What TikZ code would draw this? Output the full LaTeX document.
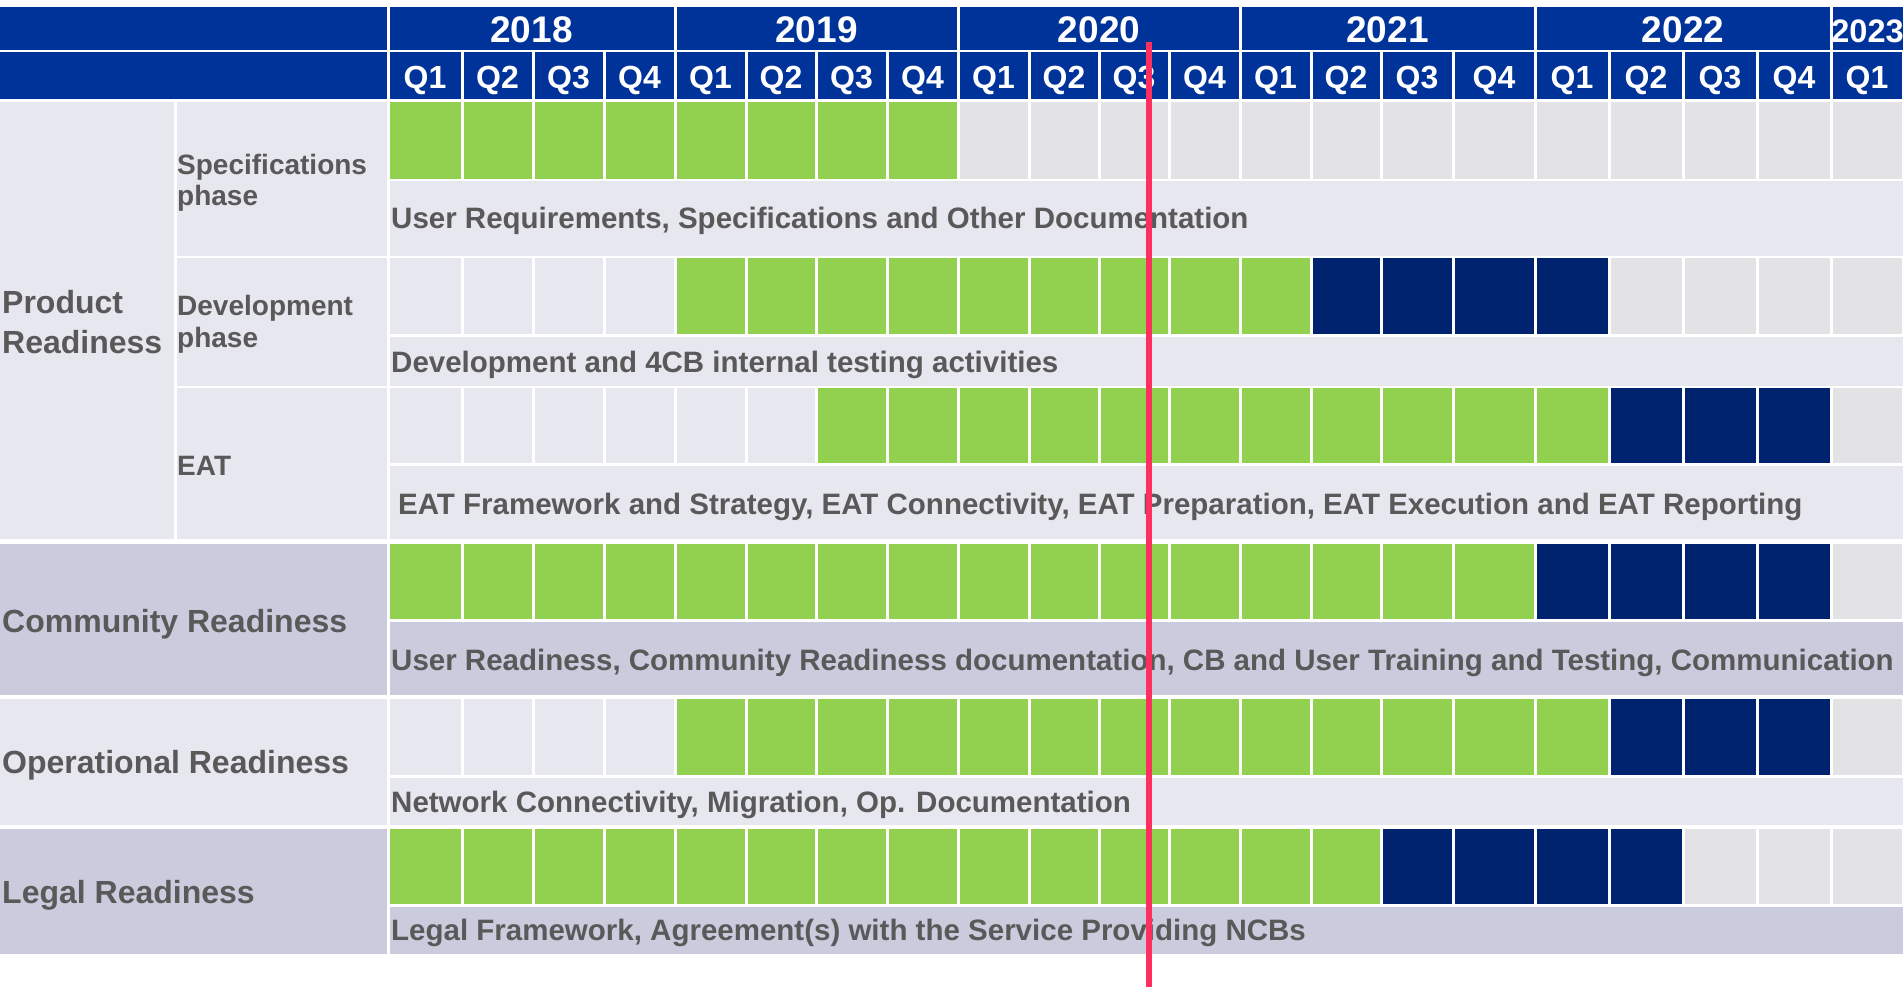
\documentclass[tikz,border=0pt]{standalone}
\usepackage{fontspec}
\setmainfont{Liberation Sans}
\usepackage{tikz}

\definecolor{hdrblue}{RGB}{0,51,153}
\definecolor{navycell}{RGB}{0,35,112}
\definecolor{greencell}{RGB}{146,208,80}
\definecolor{blankcell}{RGB}{230,231,239}
\definecolor{lavcell}{RGB}{202,203,221}
\definecolor{futurecell}{RGB}{227,227,229}
\definecolor{labelgray}{RGB}{89,89,89}
\definecolor{todayred}{RGB}{255,48,96}

\def\quarters{388/462, 462/533, 533/604, 604/675, 675/746, 746/816, 816/887, 887/958, 958/1029, 1029/1099, 1099/1169, 1169/1240, 1240/1311, 1311/1381, 1381/1453, 1453/1535, 1535/1609, 1609/1683, 1683/1757, 1757/1831, 1831/1903}

\begin{document}
\begin{tikzpicture}[x=1pt, y=-1pt,
hdrcell/.style={fill=hdrblue},
yearnode/.style={text=white, font=\fontsize{37}{37}\selectfont\bfseries, inner sep=0pt, anchor=base},
qnode/.style={text=white, font=\fontsize{32}{32}\selectfont\bfseries, inner sep=0pt, anchor=base},
grouplabel/.style={text=labelgray, font=\fontsize{32}{40}\selectfont\bfseries, inner sep=0pt, anchor=base west, align=left},
phaselabel/.style={text=labelgray, font=\fontsize{28}{32}\selectfont\bfseries, inner sep=0pt, anchor=base west, align=left},
tasknode/.style={text=labelgray, font=\fontsize{29.5}{29.5}\selectfont\bfseries, inner sep=0pt, anchor=base west},
todayline/.style={draw=todayred, line width=6pt},
]
\useasboundingbox (0,0) rectangle (1903,987);

%Header
\fill[hdrcell] (0,7) rectangle (386.5,50);
\fill[hdrcell] (0,52.5) rectangle (386.5,99);
\foreach \xa/\xb/\yr in {388/675/2018, 675/958/2019, 958/1240/2020, 1240/1535/2021, 1535/1831/2022}{
  \fill[hdrcell] (\xa+1.5,7) rectangle (\xb-1.5,50);
  \node[yearnode] (y\yr) at ({(\xa+\xb)/2},43) {\yr};
}
\fill[hdrcell] (1832.5,7) rectangle (1903,50);
\node[yearnode, font=\fontsize{32.5}{32.5}\selectfont\bfseries] (y2023) at (1867.5,43) {2023};
\foreach \xa/\xb [count=\c] in \quarters{
  \pgfmathtruncatemacro\q{mod(\c-1,4)+1}
  \fill[hdrcell] (\xa+1.5,52.5) rectangle (\xb-1.5,99);
  \node[qnode] (q\c) at ({(\xa+\xb)/2},89) {Q\q};
}

%Left blocks
\fill[blankcell] (0,102) rectangle (173.5,539);
\fill[blankcell] (176.5,102) rectangle (386.5,255.5);
\fill[blankcell] (176.5,258) rectangle (386.5,385.5);
\fill[blankcell] (176.5,388) rectangle (386.5,539);
\fill[lavcell] (0,544) rectangle (386.5,695);
\fill[blankcell] (0,699) rectangle (386.5,825);
\fill[lavcell] (0,829) rectangle (386.5,954);

%Text rows
\fill[blankcell] (389.5,181) rectangle (1903,255.5);
\fill[blankcell] (389.5,337) rectangle (1903,385.5);
\fill[blankcell] (389.5,466) rectangle (1903,539);
\fill[lavcell] (389.5,622) rectangle (1903,695);
\fill[blankcell] (389.5,778) rectangle (1903,825);
\fill[lavcell] (389.5,907) rectangle (1903,954);

%Bars
\foreach \top/\bot/\gfrom/\gto/\nto in {102/179/1/8/8, 258/334/5/13/17, 388/463/7/17/20, 544/619/1/16/20, 699/775/5/17/20, 829/904/1/14/18}{
  \foreach \xa/\xb [count=\c] in \quarters{
    \ifnum\c<\gfrom \def\clr{blankcell}\else\ifnum\c>\gto\ifnum\c>\nto\def\clr{futurecell}\else\def\clr{navycell}\fi\else\def\clr{greencell}\fi\fi
    \fill[\clr] (\xa+1.5,\top) rectangle (\xb-1.5,\bot);
  }
}

%Nodes
\node[grouplabel] (product) at (2,353) {Product\\Readiness};
\node[phaselabel] (spec) at (177,206) {Specifications\\phase};
\node[phaselabel] (dev) at (177,347) {Development\\phase};
\node[phaselabel] (eat) at (177,475) {EAT};
\node[grouplabel] (community) at (2,632) {Community Readiness};
\node[grouplabel] (operational) at (2,773) {Operational Readiness};
\node[grouplabel] (legal) at (2,903) {Legal Readiness};

\node[tasknode] (spectask) at (391,229) {User Requirements, Specifications and Other Documentation};
\node[tasknode] (devtask) at (391,372) {Development and 4CB internal testing activities};
\node[tasknode] (eattask) at (398,514) {EAT Framework and Strategy, EAT Connectivity, EAT Preparation, EAT Execution and EAT Reporting};
\node[tasknode] (commtask) at (391,670) {User Readiness, Community Readiness documentation, CB and User Training and Testing, Communication};
\node[tasknode] (optask) at (391,812) {Network Connectivity, Migration, Op. Documentation};
\node[tasknode] (legaltask) at (391,940) {Legal Framework, Agreement(s) with the Service Providing NCBs};

%Today
\coordinate (todaytop) at (1148.5,42);
\coordinate (todaybot) at (1148.5,987);
\draw[todayline] (todaytop) -- (todaybot);
\end{tikzpicture}
\end{document}
